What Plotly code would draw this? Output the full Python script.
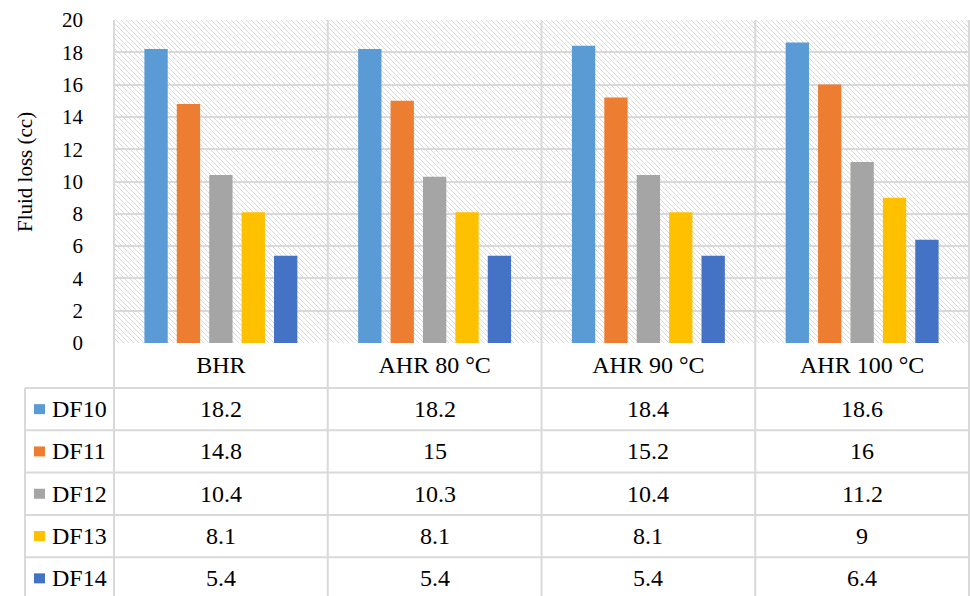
import plotly.graph_objects as go

categories = ["BHR", "AHR 80 °C", "AHR 90 °C", "AHR 100 °C"]
series_names = ["DF10", "DF11", "DF12", "DF13", "DF14"]
DF10 = [18.2, 18.2, 18.4, 18.6]
DF11 = [14.8, 15, 15.2, 16]
DF12 = [10.4, 10.3, 10.4, 11.2]
DF13 = [8.1, 8.1, 8.1, 9]
DF14 = [5.4, 5.4, 5.4, 6.4]
series_values = [DF10, DF11, DF12, DF13, DF14]
colors = ["#5B9BD5", "#ED7D31", "#A5A5A5", "#FFC000", "#4472C4"]
y_ticks = [0, 2, 4, 6, 8, 10, 12, 14, 16, 18, 20]

FONT = "Liberation Serif, Times New Roman, serif"
W, H = 970, 596
ML, MR, MT, MB = 114, 1, 20, 253
PW = W - ML - MR
PH = H - MT - MB
GRID = "#d9d9d9"

def px2x(x):
    return (x - ML) / PW

def px2y(y):
    return (MT + PH - y) / PH

fig = go.Figure()
for name, vals, col in zip(series_names, series_values, colors):
    fig.add_trace(go.Bar(x=categories, y=vals, name=name, marker_color=col,
                         marker_line_width=0, showlegend=False))

shapes = []
# hatch background (diagonal "\" lines) under gridlines
step = 5
segs = []
c = -PH
while c <= PW:
    if c >= 0:
        x0, y0 = c, 0
    else:
        x0, y0 = 0, -c
    if c + PH <= PW:
        x1, y1 = c + PH, PH
    else:
        x1, y1 = PW, PW - c
    segs.append(f"M{x0/PW:.5f},{1-y0/PH:.5f}L{x1/PW:.5f},{1-y1/PH:.5f}")
    c += step
shapes.append(dict(type="path", path="".join(segs), xref="paper", yref="paper",
                   layer="below", line=dict(color="#dadada", width=1)))

# table / frame lines
n = len(categories)
cat_w = PW / n
vx = [ML + i * cat_w for i in range(n + 1)]
for i, x in enumerate(vx):
    shapes.append(dict(type="line", xref="paper", yref="paper",
                       x0=px2x(x), x1=px2x(x), y0=px2y(MT), y1=px2y(H + 5),
                       line=dict(color=GRID, width=2), layer="above"))
table_left = 25
row_top = 388
row_h = 42.3
shapes.append(dict(type="line", xref="paper", yref="paper",
                   x0=px2x(table_left), x1=px2x(table_left), y0=px2y(row_top), y1=px2y(H + 5),
                   line=dict(color=GRID, width=2), layer="above"))
for r in range(len(series_names)):
    yy = row_top + r * row_h
    shapes.append(dict(type="line", xref="paper", yref="paper",
                       x0=px2x(table_left), x1=px2x(ML + PW), y0=px2y(yy), y1=px2y(yy),
                       line=dict(color=GRID, width=2), layer="above"))

annotations = []
for r, (name, vals, col) in enumerate(zip(series_names, series_values, colors)):
    yc = row_top + r * row_h + row_h / 2
    shapes.append(dict(type="rect", xref="paper", yref="paper",
                       x0=px2x(34), x1=px2x(45), y0=px2y(yc - 5), y1=px2y(yc + 5),
                       fillcolor=col, line=dict(width=0), layer="above"))
    annotations.append(dict(text=name, xref="paper", yref="paper", x=px2x(50), y=px2y(yc),
                            xanchor="left", yanchor="middle", showarrow=False,
                            font=dict(family=FONT, size=24, color="#000")))
    for cat, v in zip(categories, vals):
        annotations.append(dict(text=f"{v:g}", xref="x", yref="paper", x=cat, y=px2y(yc),
                                xanchor="center", yanchor="middle", showarrow=False,
                                font=dict(family=FONT, size=24, color="#000")))

annotations.append(dict(text="Fluid loss (cc)", xref="paper", yref="paper",
                        x=px2x(25), y=px2y(172), textangle=-90, xanchor="center",
                        yanchor="middle", showarrow=False,
                        font=dict(family=FONT, size=21, color="#000")))

fig.update_layout(
    width=W, height=H,
    margin=dict(l=ML, r=MR, t=MT, b=MB),
    paper_bgcolor="white", plot_bgcolor="rgba(0,0,0,0)",
    barmode="group", bargap=0.242, bargroupgap=0.28,
    font=dict(family=FONT, color="#000"),
    shapes=shapes, annotations=annotations,
    xaxis=dict(showgrid=False, zeroline=False, showline=False, ticks="",
               tickfont=dict(family=FONT, size=24, color="#000"),
               ticklabelstandoff=5),
    yaxis=dict(range=[0, 20], tickvals=y_ticks, showgrid=True, gridcolor=GRID, gridwidth=2,
               zeroline=False, showline=False, ticks="",
               tickfont=dict(family=FONT, size=21, color="#000"),
               ticklabelstandoff=30),
)

fig.write_html("out.html")
